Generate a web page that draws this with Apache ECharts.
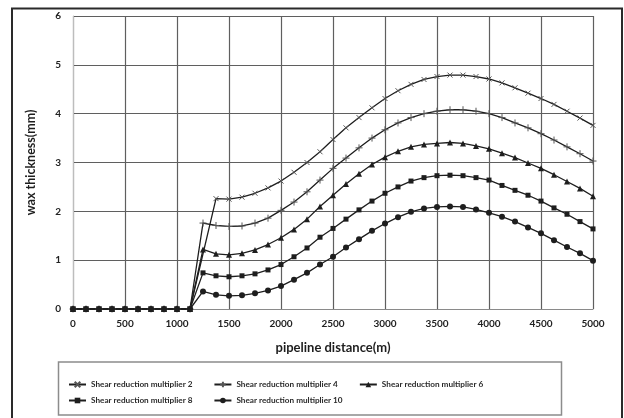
<!DOCTYPE html>
<html>
<head>
<meta charset="utf-8">
<script src="https://cdn.jsdelivr.net/npm/echarts@6/dist/echarts.min.js"></script>
<style>
  html, body { margin: 0; padding: 0; background: #fff; }
  #chart { width: 624px; height: 418px; }
</style>
</head>
<body>
<div id="chart"></div>
<script>
// Pipeline distance (m) of each computed point
const distance = [0, 125, 250, 375, 500, 625, 750, 875, 1000, 1125,
  1250, 1375, 1500, 1625, 1750, 1875, 2000, 2125, 2250, 2375,
  2500, 2625, 2750, 2875, 3000, 3125, 3250, 3375, 3500, 3625,
  3750, 3875, 4000, 4125, 4250, 4375, 4500, 4625, 4750, 4875, 5000];

// Wax thickness (mm) for each shear reduction multiplier
const mult2 = [0, 0, 0, 0, 0, 0, 0, 0, 0, 0,
  null, 2.26, 2.25, 2.29, 2.37, 2.48, 2.62, 2.80, 3.00, 3.22,
  3.47, 3.71, 3.92, 4.12, 4.31, 4.47, 4.60, 4.70, 4.76, 4.79,
  4.79, 4.76, 4.71, 4.63, 4.53, 4.42, 4.31, 4.19, 4.05, 3.91, 3.76];
const mult4 = [0, 0, 0, 0, 0, 0, 0, 0, 0, 0,
  1.76, 1.71, 1.69, 1.70, 1.76, 1.86, 2.02, 2.19, 2.40, 2.64,
  2.88, 3.09, 3.30, 3.50, 3.67, 3.81, 3.92, 4.00, 4.05, 4.08,
  4.08, 4.05, 4.00, 3.92, 3.81, 3.71, 3.59, 3.46, 3.32, 3.18, 3.03];
const mult6 = [0, 0, 0, 0, 0, 0, 0, 0, 0, 0,
  1.22, 1.13, 1.11, 1.14, 1.21, 1.32, 1.46, 1.63, 1.84, 2.10,
  2.33, 2.56, 2.77, 2.96, 3.11, 3.23, 3.32, 3.37, 3.39, 3.41,
  3.39, 3.34, 3.28, 3.19, 3.10, 2.99, 2.88, 2.75, 2.61, 2.47, 2.31];
const mult8 = [0, 0, 0, 0, 0, 0, 0, 0, 0, 0,
  0.74, 0.68, 0.66, 0.68, 0.72, 0.80, 0.91, 1.07, 1.25, 1.47,
  1.65, 1.84, 2.03, 2.21, 2.37, 2.50, 2.62, 2.69, 2.73, 2.74,
  2.73, 2.69, 2.64, 2.53, 2.43, 2.33, 2.21, 2.07, 1.94, 1.79, 1.64];
const mult10 = [0, 0, 0, 0, 0, 0, 0, 0, 0, 0,
  0.36, 0.29, 0.27, 0.28, 0.32, 0.38, 0.47, 0.60, 0.74, 0.91,
  1.07, 1.26, 1.43, 1.60, 1.75, 1.88, 1.99, 2.06, 2.09, 2.10,
  2.09, 2.04, 1.97, 1.89, 1.79, 1.67, 1.55, 1.41, 1.27, 1.14, 0.99];

const seriesNames = [
  'Shear reduction multiplier 2',
  'Shear reduction multiplier 4',
  'Shear reduction multiplier 6',
  'Shear reduction multiplier 8',
  'Shear reduction multiplier 10'
];
const xTicks = [0, 500, 1000, 1500, 2000, 2500, 3000, 3500, 4000, 4500, 5000];
const yTicks = [0, 1, 2, 3, 4, 5, 6];

const ink = '#1e1e1e';
const font = 'Lato, "Open Sans", sans-serif';

const markers = [
  { symbol: 'path://M0,0L10,10M0,10L10,0', size: 5 },
  { symbol: 'path://M5,0L5,10M0,5L10,5', size: 7 },
  { symbol: 'triangle', size: 6 },
  { symbol: 'rect', size: 5 },
  { symbol: 'circle', size: 6 }
];

const allValues = [mult2, mult4, mult6, mult8, mult10];

const series = allValues.map((vals, k) => ({
  name: seriesNames[k],
  type: 'line',
  data: distance.map((d, i) => [d, vals[i]]),
  connectNulls: true,
  symbol: markers[k].symbol,
  symbolSize: markers[k].size,
  showAllSymbol: true,
  smooth: false,
  lineStyle: { color: ink, width: 1.3 },
  itemStyle: {
    color: k < 2 ? '#555' : ink,
    borderColor: k < 2 ? '#555' : ink,
    borderWidth: k < 2 ? 1 : 0
  },
  emphasis: { disabled: true },
  z: 3
}));

const legendCommon = {
  orient: 'horizontal',
  left: 68,
  padding: 0,
  itemWidth: 17,
  itemHeight: 7,
  itemGap: 21,
  selectedMode: false,
  textStyle: {
    fontFamily: font, fontWeight: 'bold', fontSize: 8.2, color: '#2a2a2a',
    width: 112, overflow: 'none'
  }
};

const chart = echarts.init(document.getElementById('chart'), null, { renderer: 'canvas' });
chart.setOption({
  animation: false,
  backgroundColor: '#ffffff',
  grid: { left: 73, right: 31, top: 16, bottom: 109, containLabel: false },
  legend: [
    Object.assign({}, legendCommon, { top: 380.5, data: seriesNames.slice(0, 3) }),
    Object.assign({}, legendCommon, { top: 396.5, data: seriesNames.slice(3) })
  ],
  xAxis: {
    type: 'value',
    min: xTicks[0],
    max: xTicks[xTicks.length - 1],
    interval: xTicks[1] - xTicks[0],
    name: 'pipeline distance(m)',
    nameLocation: 'middle',
    nameGap: 32,
    nameTextStyle: { fontFamily: font, fontWeight: 'bold', fontSize: 13, color: '#1e1e1e' },
    axisLine: { show: true, lineStyle: { color: '#8a8a8a', width: 1 } },
    axisTick: { show: false },
    axisLabel: {
      margin: 10, fontFamily: font, fontWeight: 'bold', fontSize: 10, color: '#222',
      formatter: v => String(v)
    },
    splitLine: { show: true, lineStyle: { color: '#5f5f5f', width: 1.2 } }
  },
  yAxis: {
    type: 'value',
    min: yTicks[0],
    max: yTicks[yTicks.length - 1],
    interval: yTicks[1] - yTicks[0],
    name: 'wax thickness(mm)',
    nameLocation: 'middle',
    nameGap: 36,
    nameRotate: 90,
    nameTextStyle: { fontFamily: font, fontWeight: 'bold', fontSize: 12.5, color: '#1e1e1e' },
    axisLine: { show: true, lineStyle: { color: '#bdbdbd', width: 1 } },
    axisTick: { show: false },
    axisLabel: { margin: 12, fontFamily: font, fontWeight: 'bold', fontSize: 10, color: '#222' },
    splitLine: { show: true, lineStyle: { color: '#5f5f5f', width: 1.2 } }
  },
  graphic: [
    {
      type: 'rect', silent: true, z: 0,
      shape: { x: 12, y: 8.5, width: 610, height: 420 },
      style: { fill: 'none', stroke: '#2a2a2a', lineWidth: 2 }
    },
    {
      type: 'rect', silent: true, z: 0,
      shape: { x: 58.5, y: 362, width: 503, height: 53 },
      style: { fill: 'none', stroke: '#8c8c8c', lineWidth: 1.5 }
    }
  ],
  series: series
});
</script>
</body>
</html>
